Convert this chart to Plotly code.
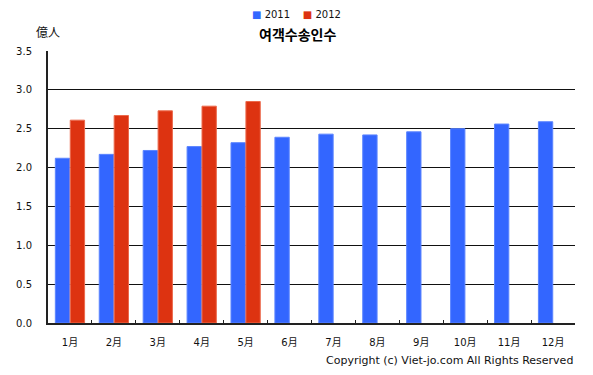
import plotly.graph_objects as go

months = ["1月", "2月", "3月", "4月", "5月", "6月", "7月", "8月", "9月", "10月", "11月", "12月"]
v2011 = [2.12, 2.17, 2.22, 2.27, 2.32, 2.39, 2.43, 2.42, 2.46, 2.50, 2.56, 2.59]
v2012 = [2.61, 2.67, 2.73, 2.79, 2.85, None, None, None, None, None, None, None]
yticks = [0.0, 0.5, 1.0, 1.5, 2.0, 2.5, 3.0, 3.5]
ytext = ["0.0", "0.5", "1.0", "1.5", "2.0", "2.5", "3.0", "3.5"]

BLUE = "#3366ff"
RED = "#dd3311"
FONT = "DejaVu Sans, Noto Sans CJK KR, sans-serif"

fig = go.Figure()
fig.add_bar(x=months, y=v2011, name="2011", marker=dict(color=BLUE, line=dict(color="#5c85ff", width=1)))
fig.add_bar(x=months, y=v2012, name="2012", marker=dict(color=RED, line=dict(color="#ec6a4c", width=1)))

fig.update_layout(
    width=593, height=375,
    margin=dict(l=48, r=18, t=51, b=52),
    paper_bgcolor="white", plot_bgcolor="white",
    barmode="group", bargap=0.32, bargroupgap=0.04,
    showlegend=False,
    font=dict(family=FONT, size=10, color="#222"),
    xaxis=dict(
        type="category", showgrid=False, showline=True, linecolor="#222", linewidth=2,
        ticks="inside", ticklen=3, tickcolor="#222", tickson="boundaries",
        tickfont=dict(size=10, color="#111"), mirror=False, ticklabelstandoff=9,
    ),
    yaxis=dict(
        range=[0, 3.5], tickvals=yticks, ticktext=ytext,
        showgrid=True, gridcolor="#111", gridwidth=1.3,
        showline=True, linecolor="#222", linewidth=2, ticks="",
        tickfont=dict(size=10, color="#111"), zeroline=False,
        ticklabelstandoff=12,
    ),
    annotations=[
        dict(text="<b>여객수송인수</b>", x=297, xref="paper", y=34, yref="paper", showarrow=False,
             font=dict(size=14, color="#000", family="Noto Sans CJK KR, sans-serif"), xanchor="center", yanchor="middle"),
        dict(text="<span style='color:%s'>■</span> 2011&nbsp;&nbsp;&nbsp;&nbsp;<span style='color:%s'>■</span> 2012" % (BLUE, RED),
             x=296, xref="paper", y=14, yref="paper", showarrow=False,
             font=dict(size=10, color="#111"), xanchor="center", yanchor="middle"),
        dict(text="億人", x=34, xref="paper", y=31, yref="paper", showarrow=False,
             font=dict(size=12, color="#111", family="Noto Sans CJK JP, sans-serif"), xanchor="left", yanchor="middle"),
        dict(text="Copyright (c) Viet-jo.com All Rights Reserved", x=575, xref="paper", y=360, yref="paper",
             showarrow=False, font=dict(size=11, color="#111"), xanchor="right", yanchor="middle"),
    ],
)

# convert pixel positions for annotations into paper coordinates
pw = 593 - 48 - 18
ph = 375 - 51 - 52
for a in fig.layout.annotations:
    if a.x is not None and a.x > 1.5:
        a.x = (a.x - 48) / pw
    if a.y is not None and a.y > 1.5:
        a.y = (323 - a.y) / ph

fig.write_html("out.html", config={"displayModeBar": False},
               post_script="document.body.style.margin='0';")
